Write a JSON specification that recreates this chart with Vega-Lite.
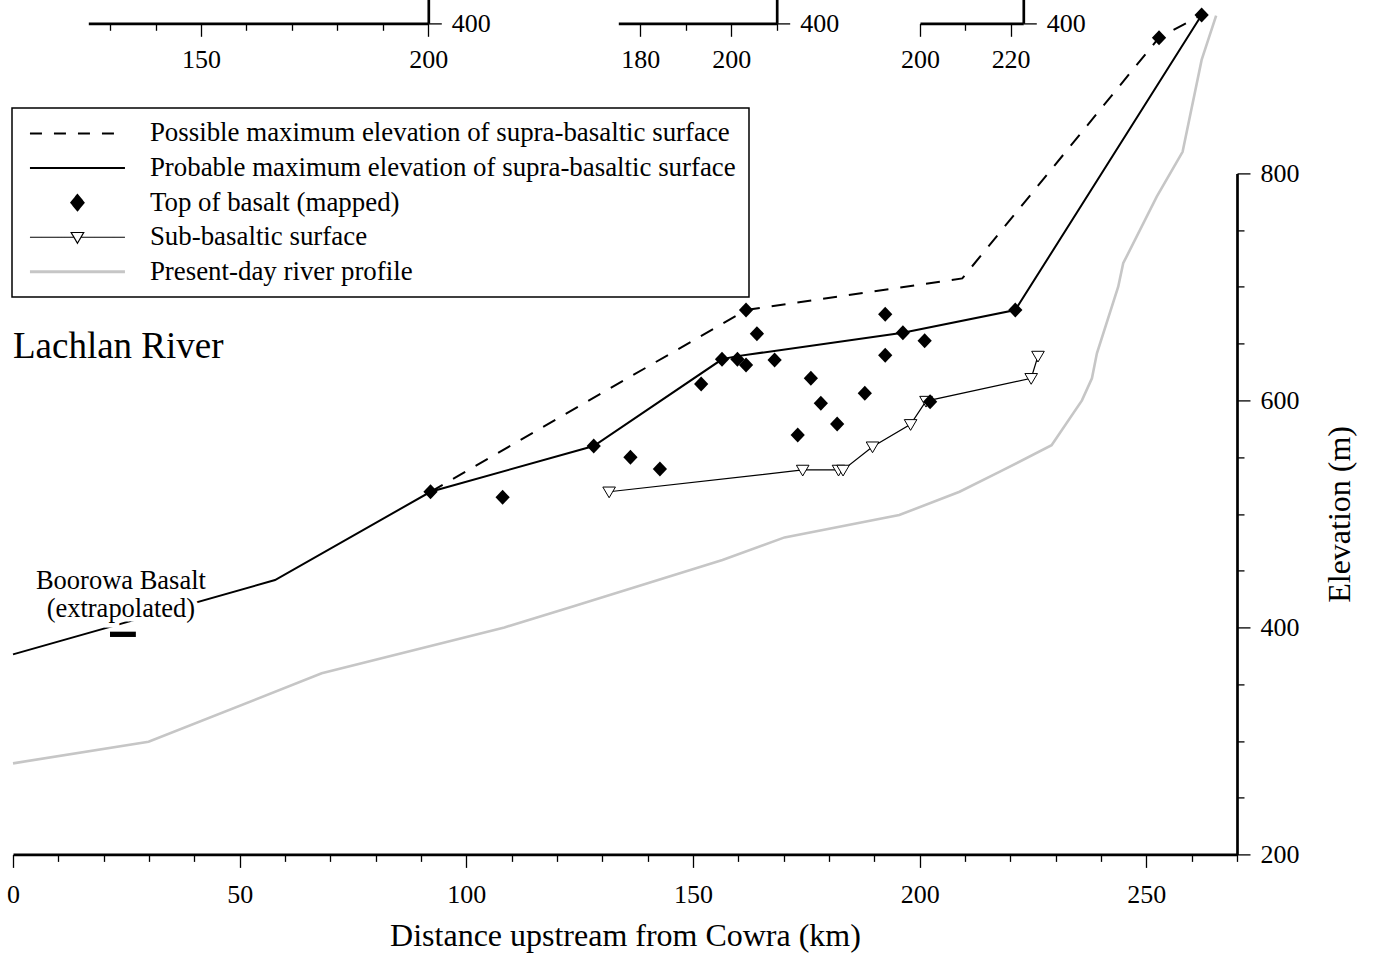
{
  "$schema": "https://vega.github.io/schema/vega-lite/v6.json",
  "width": 1224,
  "height": 681,
  "autosize": {"type": "none"},
  "padding": {"left": 13, "top": 173.4, "right": 138.3, "bottom": 100.7},
  "background": "white",
  "datasets": {
    "profile": [
      {"series": "Possible maximum elevation of supra-basaltic surface", "km": 92.1, "elev": 519.5},
      {"series": "Possible maximum elevation of supra-basaltic surface", "km": 161.7, "elev": 679.6},
      {"series": "Possible maximum elevation of supra-basaltic surface", "km": 209.4, "elev": 707.5},
      {"series": "Possible maximum elevation of supra-basaltic surface", "km": 252.8, "elev": 919.6},
      {"series": "Possible maximum elevation of supra-basaltic surface", "km": 262.2, "elev": 939.6},

      {"series": "Probable maximum elevation of supra-basaltic surface", "km": 0, "elev": 376.2},
      {"series": "Probable maximum elevation of supra-basaltic surface", "km": 57.8, "elev": 441.7},
      {"series": "Probable maximum elevation of supra-basaltic surface", "km": 92.1, "elev": 519.5},
      {"series": "Probable maximum elevation of supra-basaltic surface", "km": 128.1, "elev": 559.8},
      {"series": "Probable maximum elevation of supra-basaltic surface", "km": 156.4, "elev": 636.2},
      {"series": "Probable maximum elevation of supra-basaltic surface", "km": 159.8, "elev": 639.0},
      {"series": "Probable maximum elevation of supra-basaltic surface", "km": 196.3, "elev": 659.6},
      {"series": "Probable maximum elevation of supra-basaltic surface", "km": 221.1, "elev": 679.6},
      {"series": "Probable maximum elevation of supra-basaltic surface", "km": 262.2, "elev": 939.6},

      {"series": "Top of basalt (mapped)", "km": 92.1, "elev": 519.5},
      {"series": "Top of basalt (mapped)", "km": 108.0, "elev": 514.6},
      {"series": "Top of basalt (mapped)", "km": 128.1, "elev": 559.8},
      {"series": "Top of basalt (mapped)", "km": 136.2, "elev": 549.8},
      {"series": "Top of basalt (mapped)", "km": 142.7, "elev": 539.5},
      {"series": "Top of basalt (mapped)", "km": 151.8, "elev": 614.4},
      {"series": "Top of basalt (mapped)", "km": 156.4, "elev": 636.2},
      {"series": "Top of basalt (mapped)", "km": 159.8, "elev": 636.2},
      {"series": "Top of basalt (mapped)", "km": 161.7, "elev": 631.2},
      {"series": "Top of basalt (mapped)", "km": 161.7, "elev": 679.6},
      {"series": "Top of basalt (mapped)", "km": 164.1, "elev": 658.8},
      {"series": "Top of basalt (mapped)", "km": 168.0, "elev": 635.6},
      {"series": "Top of basalt (mapped)", "km": 173.1, "elev": 569.5},
      {"series": "Top of basalt (mapped)", "km": 176.0, "elev": 619.5},
      {"series": "Top of basalt (mapped)", "km": 178.2, "elev": 597.4},
      {"series": "Top of basalt (mapped)", "km": 181.8, "elev": 579.2},
      {"series": "Top of basalt (mapped)", "km": 187.9, "elev": 606.2},
      {"series": "Top of basalt (mapped)", "km": 192.4, "elev": 639.7},
      {"series": "Top of basalt (mapped)", "km": 192.4, "elev": 675.9},
      {"series": "Top of basalt (mapped)", "km": 196.3, "elev": 659.6},
      {"series": "Top of basalt (mapped)", "km": 201.1, "elev": 652.6},
      {"series": "Top of basalt (mapped)", "km": 202.3, "elev": 598.8},
      {"series": "Top of basalt (mapped)", "km": 221.1, "elev": 679.6},
      {"series": "Top of basalt (mapped)", "km": 252.8, "elev": 919.6},
      {"series": "Top of basalt (mapped)", "km": 262.2, "elev": 939.6},

      {"series": "Sub-basaltic surface", "km": 131.5, "elev": 519.5},
      {"series": "Sub-basaltic surface", "km": 174.2, "elev": 538.7},
      {"series": "Sub-basaltic surface", "km": 182.1, "elev": 538.7},
      {"series": "Sub-basaltic surface", "km": 183.1, "elev": 538.7},
      {"series": "Sub-basaltic surface", "km": 189.6, "elev": 559.2},
      {"series": "Sub-basaltic surface", "km": 198.0, "elev": 578.9},
      {"series": "Sub-basaltic surface", "km": 201.4, "elev": 599.4},
      {"series": "Sub-basaltic surface", "km": 224.6, "elev": 619.5},
      {"series": "Sub-basaltic surface", "km": 226.1, "elev": 639.1},

      {"series": "Present-day river profile", "km": 0, "elev": 280.2},
      {"series": "Present-day river profile", "km": 29.9, "elev": 299.2},
      {"series": "Present-day river profile", "km": 68.1, "elev": 359.5},
      {"series": "Present-day river profile", "km": 108.4, "elev": 400.0},
      {"series": "Present-day river profile", "km": 123.3, "elev": 418.2},
      {"series": "Present-day river profile", "km": 156.5, "elev": 459.3},
      {"series": "Present-day river profile", "km": 170.2, "elev": 479.3},
      {"series": "Present-day river profile", "km": 195.5, "elev": 499.0},
      {"series": "Present-day river profile", "km": 208.8, "elev": 519.5},
      {"series": "Present-day river profile", "km": 217.7, "elev": 537.2},
      {"series": "Present-day river profile", "km": 229.1, "elev": 560.5},
      {"series": "Present-day river profile", "km": 235.8, "elev": 600.0},
      {"series": "Present-day river profile", "km": 238.0, "elev": 619.5},
      {"series": "Present-day river profile", "km": 239.1, "elev": 641.5},
      {"series": "Present-day river profile", "km": 243.8, "elev": 700.2},
      {"series": "Present-day river profile", "km": 244.9, "elev": 720.8},
      {"series": "Present-day river profile", "km": 252.3, "elev": 779.5},
      {"series": "Present-day river profile", "km": 258.0, "elev": 819.0},
      {"series": "Present-day river profile", "km": 262.2, "elev": 900.0},
      {"series": "Present-day river profile", "km": 265.4, "elev": 939.0}
    ]
  },
  "layer": [
    {
      "data": {"name": "profile"},
      "encoding": {
        "x": {
          "field": "km", "type": "quantitative",
          "scale": {"domain": [0, 270], "nice": false, "zero": false},
          "axis": {
            "orient": "bottom",
            "values": [0, 10, 20, 30, 40, 50, 60, 70, 80, 90, 100, 110, 120, 130, 140, 150, 160, 170, 180, 190, 200, 210, 220, 230, 240, 250, 260, 270],
            "title": "Distance upstream from Cowra (km)",
            "tickSize": {"condition": {"test": "datum.value % 50 === 0", "value": 13}, "value": 7},
            "labelExpr": "datum.value % 50 === 0 ? datum.label : ''",
            "labelPadding": 14,
            "titlePadding": 13
          }
        },
        "y": {
          "field": "elev", "type": "quantitative",
          "scale": {"domain": [200, 800], "nice": false, "zero": false},
          "axis": {
            "orient": "right",
            "values": [200, 250, 300, 350, 400, 450, 500, 550, 600, 650, 700, 750, 800],
            "title": "Elevation (m)",
            "titleAngle": 270,
            "titleBaseline": "top",
            "tickSize": {"condition": {"test": "datum.value % 200 === 0", "value": 13}, "value": 7},
            "labelExpr": "datum.value % 200 === 0 ? datum.label : ''",
            "labelPadding": 10,
            "titlePadding": 26
          }
        }
      },
      "layer": [
        {
          "transform": [{"filter": "datum.series === 'Present-day river profile'"}],
          "mark": {"type": "line", "strokeWidth": 2.6},
          "encoding": {
            "color": {
              "field": "series", "type": "nominal",
              "scale": {
                "domain": ["Possible maximum elevation of supra-basaltic surface", "Probable maximum elevation of supra-basaltic surface", "Top of basalt (mapped)", "Sub-basaltic surface", "Present-day river profile"],
                "range": ["black", "black", "black", "black", "#c6c6c6"]
              },
              "legend": {
                "title": null,
                "encode": {
                  "symbols": {
                    "update": {
                      "shape": {"signal": "datum.value === 'Top of basalt (mapped)' ? 'M0,-0.16L0.13,0L0,0.16L-0.13,0Z' : datum.value === 'Sub-basaltic surface' ? 'M-1,0H-0.075M0.075,0H1M-0.133,-0.1H0.133L0,0.126Z' : 'M-1,0H1'"},
                      "fill": {"signal": "datum.value === 'Top of basalt (mapped)' ? 'black' : datum.value === 'Sub-basaltic surface' ? 'white' : 'transparent'"},
                      "stroke": {"signal": "datum.value === 'Present-day river profile' ? '#c6c6c6' : datum.value === 'Top of basalt (mapped)' ? 'transparent' : 'black'"},
                      "strokeDash": {"signal": "datum.value === 'Possible maximum elevation of supra-basaltic surface' ? [12, 12] : [1, 0]"},
                      "strokeWidth": {"signal": "datum.value === 'Present-day river profile' ? 3 : datum.value === 'Sub-basaltic surface' ? 1.2 : 2"},
                      "size": {"value": 9025},
                      "opacity": {"value": 1}
                    }
                  }
                }
              }
            }
          }
        },
        {
          "transform": [{"filter": "datum.series === 'Possible maximum elevation of supra-basaltic surface'"}],
          "mark": {"type": "line", "strokeWidth": 2, "strokeDash": [14, 12]},
          "encoding": {
            "color": {
              "field": "series", "type": "nominal",
              "scale": {
                "domain": ["Possible maximum elevation of supra-basaltic surface", "Probable maximum elevation of supra-basaltic surface", "Top of basalt (mapped)", "Sub-basaltic surface", "Present-day river profile"],
                "range": ["black", "black", "black", "black", "#c6c6c6"]
              }
            }
          }
        },
        {
          "transform": [{"filter": "datum.series === 'Probable maximum elevation of supra-basaltic surface'"}],
          "mark": {"type": "line", "strokeWidth": 2},
          "encoding": {
            "color": {
              "field": "series", "type": "nominal",
              "scale": {
                "domain": ["Possible maximum elevation of supra-basaltic surface", "Probable maximum elevation of supra-basaltic surface", "Top of basalt (mapped)", "Sub-basaltic surface", "Present-day river profile"],
                "range": ["black", "black", "black", "black", "#c6c6c6"]
              }
            }
          }
        },
        {
          "transform": [{"filter": "datum.series === 'Sub-basaltic surface'"}],
          "mark": {"type": "line", "strokeWidth": 1.2},
          "encoding": {
            "color": {
              "field": "series", "type": "nominal",
              "scale": {
                "domain": ["Possible maximum elevation of supra-basaltic surface", "Probable maximum elevation of supra-basaltic surface", "Top of basalt (mapped)", "Sub-basaltic surface", "Present-day river profile"],
                "range": ["black", "black", "black", "black", "#c6c6c6"]
              }
            }
          }
        },
        {
          "transform": [{"filter": "datum.series === 'Sub-basaltic surface'"}],
          "mark": {"type": "point", "shape": "M-1,-0.75L1,-0.75L0,0.95Z", "size": 159, "fill": "white", "stroke": "black", "strokeWidth": 1, "opacity": 1, "filled": true}
        },
        {
          "transform": [{"filter": "datum.series === 'Top of basalt (mapped)'"}],
          "mark": {"type": "point", "shape": "M0,-1L0.95,0L0,1L-0.95,0Z", "size": 225, "color": "black", "filled": true, "opacity": 1}
        },
        {
          "data": {"values": [
            {"label": "Boorowa Basalt", "km": 23.8, "elev": 433.8},
            {"label": "(extrapolated)", "km": 23.8, "elev": 409.4}
          ]},
          "mark": {"type": "text", "font": "Liberation Serif", "fontSize": 26.5, "align": "center", "baseline": "alphabetic", "stroke": "white", "strokeWidth": 9, "fill": "white"},
          "encoding": {"text": {"field": "label"}}
        },
        {
          "data": {"values": [
            {"label": "Boorowa Basalt", "km": 23.8, "elev": 433.8},
            {"label": "(extrapolated)", "km": 23.8, "elev": 409.4}
          ]},
          "mark": {"type": "text", "font": "Liberation Serif", "fontSize": 26.5, "align": "center", "baseline": "alphabetic", "color": "black"},
          "encoding": {"text": {"field": "label"}}
        },
        {
          "data": {"values": [{"km": 21.4, "km_end": 27.1, "elev": 393.9}]},
          "mark": {"type": "rule", "strokeWidth": 5.3, "color": "black", "strokeCap": "butt"},
          "encoding": {"x2": {"field": "km_end"}}
        },
        {
          "data": {"values": [{"label": "Lachlan River", "km": 0, "elev": 637}]},
          "mark": {"type": "text", "font": "Liberation Serif", "fontSize": 37, "align": "left", "baseline": "alphabetic", "color": "black"},
          "encoding": {"text": {"field": "label"}}
        }
      ]
    },
    {
      "data": {"values": [{"km": 125.2, "elev": 400}]},
      "mark": {"type": "point", "opacity": 0},
      "encoding": {
        "x": {
          "field": "km", "type": "quantitative",
          "scale": {"domain": [125.2, 200], "range": [75.3, 415.3], "nice": false, "zero": false},
          "axis": {
            "orient": "bottom", "offset": -831.1, "title": null,
            "values": [130, 140, 150, 160, 170, 180, 190, 200],
            "tickSize": {"condition": {"test": "datum.value % 50 === 0", "value": 13}, "value": 7},
            "labelExpr": "datum.value % 50 === 0 ? datum.label : ''",
            "labelPadding": 10
          }
        },
        "y": {
          "field": "elev", "type": "quantitative",
          "scale": {"domain": [400, 1000], "range": [-150.1, -831.1], "nice": false, "zero": false},
          "axis": {
            "orient": "right", "offset": -808.7, "title": null,
            "values": [400, 450, 500],
            "tickSize": {"condition": {"test": "datum.value % 200 === 0", "value": 13}, "value": 7},
            "labelExpr": "datum.value % 200 === 0 ? datum.label : ''",
            "labelPadding": 10
          }
        }
      }
    },
    {
      "data": {"values": [{"km": 175.2, "elev": 400}]},
      "mark": {"type": "point", "opacity": 0},
      "encoding": {
        "x": {
          "field": "km", "type": "quantitative",
          "scale": {"domain": [175.2, 210], "range": [605.3, 763.7], "nice": false, "zero": false},
          "axis": {
            "orient": "bottom", "offset": -831.1, "title": null,
            "values": [180, 190, 200, 210],
            "tickSize": {"condition": {"test": "datum.value % 20 === 0", "value": 13}, "value": 7},
            "labelExpr": "datum.value % 20 === 0 ? datum.label : ''",
            "labelPadding": 10
          }
        },
        "y": {
          "field": "elev", "type": "quantitative",
          "scale": {"domain": [400, 1000], "range": [-150.1, -831.1], "nice": false, "zero": false},
          "axis": {
            "orient": "right", "offset": -460.3, "title": null,
            "values": [400, 450, 500],
            "tickSize": {"condition": {"test": "datum.value % 200 === 0", "value": 13}, "value": 7},
            "labelExpr": "datum.value % 200 === 0 ? datum.label : ''",
            "labelPadding": 10
          }
        }
      }
    },
    {
      "data": {"values": [{"km": 200, "elev": 400}]},
      "mark": {"type": "point", "opacity": 0},
      "encoding": {
        "x": {
          "field": "km", "type": "quantitative",
          "scale": {"domain": [200, 222.8], "range": [907, 1010.3], "nice": false, "zero": false},
          "axis": {
            "orient": "bottom", "offset": -831.1, "title": null,
            "values": [200, 210, 220],
            "tickSize": {"condition": {"test": "datum.value % 20 === 0", "value": 13}, "value": 7},
            "labelExpr": "datum.value % 20 === 0 ? datum.label : ''",
            "labelPadding": 10
          }
        },
        "y": {
          "field": "elev", "type": "quantitative",
          "scale": {"domain": [400, 1000], "range": [-150.1, -831.1], "nice": false, "zero": false},
          "axis": {
            "orient": "right", "offset": -213.7, "title": null,
            "values": [400, 450, 500],
            "tickSize": {"condition": {"test": "datum.value % 200 === 0", "value": 13}, "value": 7},
            "labelExpr": "datum.value % 200 === 0 ? datum.label : ''",
            "labelPadding": 10
          }
        }
      }
    }
  ],
  "resolve": {
    "scale": {"x": "independent", "y": "independent"},
    "axis": {"x": "independent", "y": "independent"}
  },
  "config": {
    "view": {"stroke": null},
    "font": "Liberation Serif",
    "axis": {
      "grid": false,
      "domainColor": "black",
      "domainWidth": 2.7,
      "tickColor": "black",
      "tickWidth": 1.3,
      "labelColor": "black",
      "titleColor": "black",
      "labelFont": "Liberation Serif",
      "titleFont": "Liberation Serif",
      "labelFontSize": 26,
      "titleFontSize": 32,
      "titleFontWeight": "normal",
      "labelFlush": false,
      "labelOverlap": false,
      "labelBound": false
    },
    "legend": {
      "orient": "none",
      "legendX": -1,
      "legendY": -65.4,
      "padding": 12,
      "strokeColor": "black",
      "strokeWidth": 1.5,
      "fillColor": "white",
      "symbolSize": 9025,
      "symbolStrokeWidth": 2,
      "symbolOffset": 40,
      "labelFont": "Liberation Serif",
      "labelFontSize": 26.9,
      "labelColor": "black",
      "labelLimit": 2000,
      "labelOffset": 59,
      "rowPadding": 6.6
    }
  }
}
